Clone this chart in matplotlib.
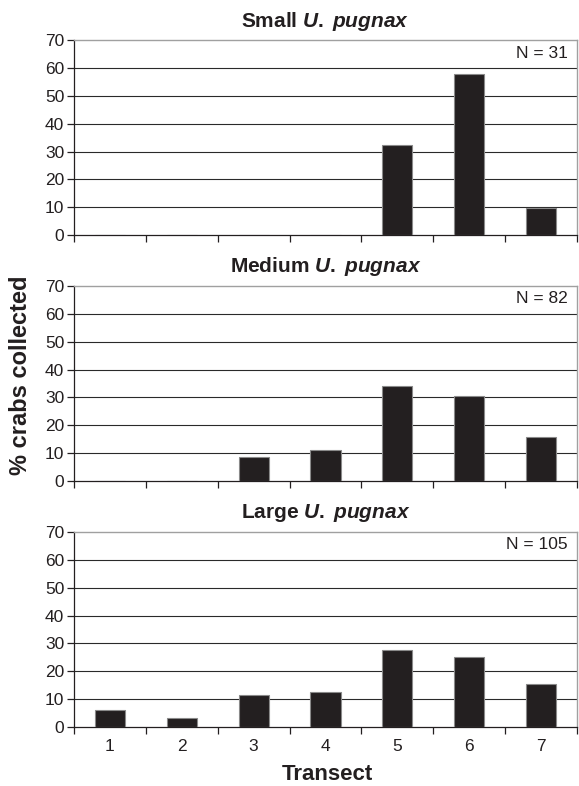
import matplotlib.pyplot as plt
import numpy as np
from matplotlib.ticker import FixedLocator

plt.rcParams["font.family"] = ["Liberation Sans", "DejaVu Sans"]
plt.rcParams["mathtext.fontset"] = "custom"
plt.rcParams["mathtext.it"] = "Liberation Sans:italic:bold"
plt.rcParams["mathtext.rm"] = "Liberation Sans:bold"

# ---------------------------------------------------------------------------
# Data (% crabs collected per transect)
# ---------------------------------------------------------------------------
transects = [1, 2, 3, 4, 5, 6, 7]
small_pct = [0, 0, 0, 0, 32.3, 58.1, 9.7]
medium_pct = [0, 0, 8.5, 11.0, 34.1, 30.5, 15.9]
large_pct = [6.2, 3.0, 11.5, 12.5, 27.6, 25.2, 15.3]

panel_titles = ["Small", "Medium", "Large"]
panel_n = [31, 82, 105]
panel_values = [small_pct, medium_pct, large_pct]

INK = "#231f20"
BAR_COLOR = "#231f20"
BAR_EDGE = "#8a8a8a"
FRAME_GRAY = "#a0a0a0"

fig = plt.figure(figsize=(5.79, 7.86), dpi=100)

left, width = 0.1278, 0.8687
bottoms = [0.7010, 0.3884, 0.0754]
height = 0.2475

x = np.arange(len(transects))
for i, (name, n, vals) in enumerate(zip(panel_titles, panel_n, panel_values)):
    ax = fig.add_axes([left, bottoms[i], width, height])
    ax.bar(x, vals, width=0.42, color=BAR_COLOR, edgecolor=BAR_EDGE,
           linewidth=0.8, zorder=3)
    ax.set_xlim(-0.5, len(transects) - 0.5)
    ax.set_ylim(0, 70)
    ax.set_yticks(range(0, 71, 10))

    # horizontal grid lines
    for yv in range(10, 70, 10):
        ax.axhline(yv, color="#2a2a2a", lw=0.8, zorder=1)

    # category boundary ticks (minor), labels at centres (major)
    ax.xaxis.set_minor_locator(FixedLocator(np.arange(-0.5, len(transects), 1.0)))
    ax.set_xticks(x)
    ax.tick_params(axis="x", which="major", length=0, pad=9)
    ax.tick_params(axis="x", which="minor", length=5, width=0.9, color=INK)
    ax.tick_params(axis="y", length=5, width=0.9, color=INK, pad=2)
    ax.tick_params(labelsize=12.5, labelcolor=INK)
    if i == 2:
        ax.set_xticklabels([str(t) for t in transects])
    else:
        ax.set_xticklabels([])

    for side in ("left", "bottom"):
        ax.spines[side].set_color(INK)
        ax.spines[side].set_linewidth(0.9)
    for side in ("top", "right"):
        ax.spines[side].set_color(FRAME_GRAY)
        ax.spines[side].set_linewidth(1.0)

    ax.set_title(f"{name} $\\it{{U.\\;pugnax}}$", fontsize=15,
                 fontweight="bold", color=INK, pad=10)
    ax.text(0.982, 0.935, f"N = {n}", transform=ax.transAxes,
            ha="right", va="center", fontsize=12.5, color=INK)

fig.text(0.036, 0.523, "% crabs collected", rotation=90, ha="center",
         va="center", fontsize=17, fontweight="bold", color=INK)
fig.text(0.565, 0.015, "Transect", ha="center", va="center",
         fontsize=16, fontweight="bold", color=INK)

fig.savefig("out.png", dpi=100)
plt.close(fig)
